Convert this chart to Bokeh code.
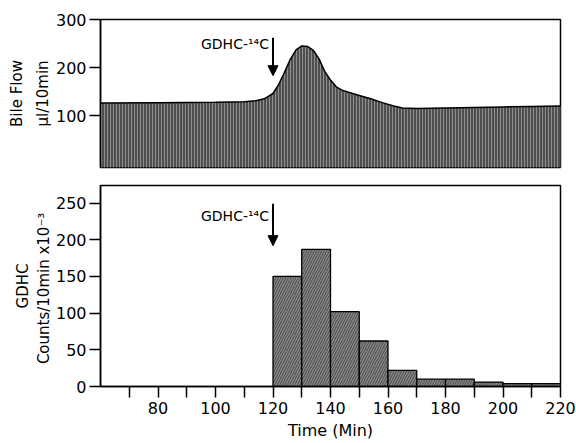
from bokeh.plotting import figure
from bokeh.layouts import column
from bokeh.models import Range1d, FixedTicker, Arrow, NormalHead, Label, Title
from bokeh.embed import file_html
from bokeh.resources import INLINE

# ---- data ----
flow_time = [60, 80, 100, 110, 114, 117, 120, 122, 124, 126, 128, 130, 132, 134, 136,
             138, 140, 142, 144, 146, 150, 154, 158, 162, 165, 170, 180, 190, 200, 210, 220]
bile_flow = [126, 127, 128, 129, 131, 135, 146, 165, 190, 217, 237, 245, 244, 236, 218,
             192, 174, 160, 153, 149, 142, 135, 127, 120, 116, 115, 116, 117, 118, 119, 120]

bin_left = [120, 130, 140, 150, 160, 170, 180, 190, 200, 210]
bin_right = [130, 140, 150, 160, 170, 180, 190, 200, 210, 220]
gdhc_counts = [150, 187, 102, 62, 22, 10, 10, 6, 4, 4]

x_major = [80, 100, 120, 140, 160, 180, 200, 220]
x_minor = [70, 90, 110, 130, 150, 170, 190, 210]
flow_ticks = [100, 200, 300]
count_ticks = [0, 50, 100, 150, 200, 250]

inject_time = 120
label_text = "GDHC-\u00b9\u2074C"

FONT = "DejaVu Sans"

def style(p):
    p.xgrid.visible = False
    p.ygrid.visible = False
    p.outline_line_color = "black"
    p.outline_line_width = 1.5
    p.background_fill_color = "white"
    p.border_fill_color = "white"
    for ax in p.yaxis:
        ax.axis_line_color = "black"
        ax.axis_line_width = 1.5
        ax.major_tick_line_color = "black"
        ax.major_tick_line_width = 1.5
        ax.major_tick_out = 11
        ax.major_tick_in = 0
        ax.minor_tick_line_color = None
        ax.major_label_text_font = FONT
        ax.major_label_text_font_size = "16px"
        ax.major_label_text_color = "black"
        ax.major_label_standoff = 3

def side_title(p, text, standoff):
    p.add_layout(Title(text=text, align="center", text_font=FONT, text_color="black",
                       text_font_size="15px", text_font_style="normal",
                       standoff=standoff), "left")

# ---- top: bile flow ----
top = figure(width=576, height=172, output_backend="svg", toolbar_location=None,
             x_range=Range1d(60, 220), y_range=Range1d(-8, 300),
             min_border_left=100, min_border_right=16, min_border_top=19, min_border_bottom=5)
top.xaxis.visible = False
top.yaxis.ticker = FixedTicker(ticks=flow_ticks)
style(top)
top.varea(x=flow_time, y1=-8, y2=bile_flow, fill_color="#4f4f4f",
          hatch_pattern="|", hatch_color="#8e8e8e", hatch_scale=3, hatch_weight=1)
top.line(x=flow_time, y=bile_flow, line_color="black", line_width=1.5)
top.add_layout(Arrow(end=NormalHead(size=10, fill_color="black", line_color="black"),
                     x_start=inject_time, y_start=262, x_end=inject_time, y_end=183,
                     line_color="black", line_width=2))
top.add_layout(Label(x=118.6, y=249, text=label_text, text_align="right",
                     text_baseline="middle", text_font=FONT, text_font_size="14px",
                     text_color="black"))
side_title(top, "\u03bcl/10min", 2)
side_title(top, "Bile Flow", 10)

# ---- bottom: GDHC counts ----
bot = figure(width=576, height=271, output_backend="svg", toolbar_location=None,
             x_range=Range1d(60, 220), y_range=Range1d(0, 274),
             min_border_left=100, min_border_right=16, min_border_top=13, min_border_bottom=57)
bot.yaxis.ticker = FixedTicker(ticks=count_ticks)
style(bot)
xa = bot.xaxis[0]
xa.ticker = FixedTicker(ticks=x_major, minor_ticks=x_minor)
xa.axis_line_color = "black"
xa.axis_line_width = 1.5
xa.major_tick_line_color = "black"
xa.major_tick_line_width = 1.5
xa.major_tick_out = 11
xa.major_tick_in = 0
xa.minor_tick_line_color = "black"
xa.minor_tick_line_width = 1.5
xa.minor_tick_out = 11
xa.minor_tick_in = 0
xa.major_label_text_font = FONT
xa.major_label_text_font_size = "16px"
xa.major_label_text_color = "black"
xa.major_label_standoff = 4
xa.axis_label = "Time (Min)"
xa.axis_label_text_font = FONT
xa.axis_label_text_font_size = "16px"
xa.axis_label_text_font_style = "normal"
xa.axis_label_text_color = "black"
xa.axis_label_standoff = 4

bot.quad(left=bin_left, right=bin_right, top=gdhc_counts, bottom=0,
         fill_color="#555555", hatch_pattern="/", hatch_color="#999999",
         hatch_scale=5, hatch_weight=1, line_color="black", line_width=1.3)
bot.add_layout(Arrow(end=NormalHead(size=10, fill_color="black", line_color="black"),
                     x_start=inject_time, y_start=249, x_end=inject_time, y_end=192,
                     line_color="black", line_width=2))
bot.add_layout(Label(x=118.6, y=233, text=label_text, text_align="right",
                     text_baseline="middle", text_font=FONT, text_font_size="14px",
                     text_color="black"))
side_title(bot, "Counts/10min  x10\u207b\u00b3", 0)
side_title(bot, "GDHC", 2)

layout = column(top, bot, spacing=0)
open("out.html", "w").write(file_html(layout, INLINE))
